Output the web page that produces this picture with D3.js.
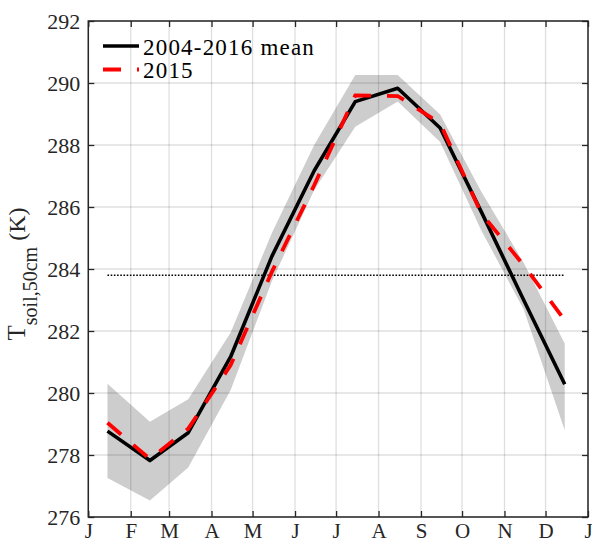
<!DOCTYPE html>
<html><head><meta charset="utf-8">
<script src="https://cdn.jsdelivr.net/npm/d3@7"></script>
<style>body{margin:0;background:#fff}svg{display:block}</style>
</head><body><svg id="c" width="592" height="544"></svg>
<script>
// ---- data ----
const monthLabels = ["J","F","M","A","M","J","J","A","S","O","N","D","J"];
const meanValues     = [278.77, 277.82, 278.72, 281.17, 284.40, 287.17, 289.40, 289.83, 288.55, 285.85, 283.00, 280.28];
const year2015Values = [279.04, 277.87, 278.85, 280.90, 283.90, 286.70, 289.60, 289.58, 288.70, 285.80, 284.12, 282.35];
const bandUpper      = [280.30, 279.07, 279.80, 281.95, 285.15, 288.00, 290.26, 290.26, 288.98, 286.50, 284.20, 281.60];
const bandLower      = [277.26, 276.53, 277.60, 280.10, 283.60, 286.55, 288.59, 289.40, 288.10, 285.25, 282.70, 278.80];
const yTicks = [276, 278, 280, 282, 284, 286, 288, 290, 292];
const threshold = 283.8;
const legendLabels = ["2004-2016 mean", "2015"];

// ---- layout ----
const svg = d3.select("#c");
const m = {left: 88.3, right: 588, top: 21, bottom: 517};
const FONT = 'Tinos, "Liberation Serif", "Times New Roman", Times, "Noto Serif", "DejaVu Serif", Georgia, serif';
const x = d3.scaleTime().domain([new Date(2015,0,1), new Date(2016,0,1)]).range([m.left, m.right]);
const y = d3.scaleLinear().domain([276, 292]).range([m.bottom, m.top]);
const dates = d3.range(12).map(i => new Date(2015, i, 15));
const tickDates = d3.range(13).map(i => new Date(2015, i, 1));
const idx = d3.range(12);

// band
svg.append("path")
  .datum(idx)
  .attr("d", d3.area().x(i => x(dates[i])).y0(i => y(bandLower[i])).y1(i => y(bandUpper[i])))
  .attr("fill", "#cdcdcd");

// grid
const grid = svg.append("g").attr("stroke", "rgba(38,38,38,0.15)").attr("stroke-width", 1.3);
grid.selectAll(".gx").data(tickDates).join("line")
  .attr("x1", d => x(d)).attr("x2", d => x(d)).attr("y1", m.top).attr("y2", m.bottom);
grid.selectAll(".gy").data(yTicks).join("line")
  .attr("y1", d => y(d)).attr("y2", d => y(d)).attr("x1", m.left).attr("x2", m.right);

// threshold dotted line
svg.append("line")
  .attr("x1", x(dates[0])).attr("x2", x(dates[11]))
  .attr("y1", y(threshold)).attr("y2", y(threshold))
  .attr("stroke", "#000").attr("stroke-width", 1.6).attr("stroke-dasharray", "1.6,1.6");

const line = d3.line().x((d, i) => x(dates[i])).y(d => y(d));
svg.append("path").datum(meanValues).attr("d", line)
  .attr("fill", "none").attr("stroke", "#000").attr("stroke-width", 3.6).attr("stroke-linejoin", "round");
svg.append("path").datum(year2015Values).attr("d", line)
  .attr("fill", "none").attr("stroke", "#ff0000").attr("stroke-width", 3.8)
  .attr("stroke-dasharray", "18,16");

// axes
const axB = svg.append("g").attr("transform", `translate(0,${m.bottom})`)
  .call(d3.axisBottom(x).tickValues(tickDates).tickFormat((d, i) => monthLabels[i])
    .tickSizeInner(-6).tickSizeOuter(0).tickPadding(6));
const axT = svg.append("g").attr("transform", `translate(0,${m.top})`)
  .call(d3.axisTop(x).tickValues(tickDates).tickFormat("").tickSizeInner(-6).tickSizeOuter(0));
const axL = svg.append("g").attr("transform", `translate(${m.left},0)`)
  .call(d3.axisLeft(y).tickValues(yTicks).tickFormat(d3.format("d")).tickSizeInner(-6).tickSizeOuter(0).tickPadding(8));
const axR = svg.append("g").attr("transform", `translate(${m.right},0)`)
  .call(d3.axisRight(y).tickValues(yTicks).tickFormat("").tickSizeInner(-6).tickSizeOuter(0));
[axB, axT, axL, axR].forEach(g => {
  g.attr("font-family", FONT);
  g.select(".domain").remove();
  g.selectAll(".tick line").attr("stroke", "#262626").attr("stroke-width", 1.3);
  g.selectAll("text").attr("font-family", FONT).attr("font-size", 22).attr("fill", "#262626");
});
axB.selectAll("text").attr("font-size", 21);

svg.append("rect")
  .attr("x", m.left).attr("y", m.top).attr("width", m.right - m.left).attr("height", m.bottom - m.top)
  .attr("fill", "none").attr("stroke", "#262626").attr("stroke-width", 1.5);

// y label
const yl = svg.append("text")
  .attr("transform", `translate(25,${(m.top + m.bottom) / 2 + 5}) rotate(-90)`)
  .attr("text-anchor", "middle").attr("font-family", FONT).attr("fill", "#262626");
yl.append("tspan").attr("font-size", 25).text("T");
yl.append("tspan").attr("font-size", 20).attr("dy", 12).text("soil,50cm");
yl.append("tspan").attr("font-size", 24).attr("dy", -12).text(" (K)");

// legend
const leg = svg.append("g");
const legendStyles = [
  {stroke: "#000", dash: null, w: 3.6},
  {stroke: "#ff0000", dash: "18,16", w: 3.8}
];
legendLabels.forEach((lab, i) => {
  const ly = 46 + i * 23.5;
  leg.append("line").attr("x1", 103).attr("x2", 139).attr("y1", ly).attr("y2", ly)
    .attr("stroke", legendStyles[i].stroke).attr("stroke-width", legendStyles[i].w)
    .attr("stroke-dasharray", legendStyles[i].dash);
  leg.append("text").attr("x", 143).attr("y", ly + 8.5)
    .attr("font-family", FONT).attr("font-size", 23).attr("fill", "#000")
    .attr("letter-spacing", 1.2).text(lab);
});
</script></body></html>
